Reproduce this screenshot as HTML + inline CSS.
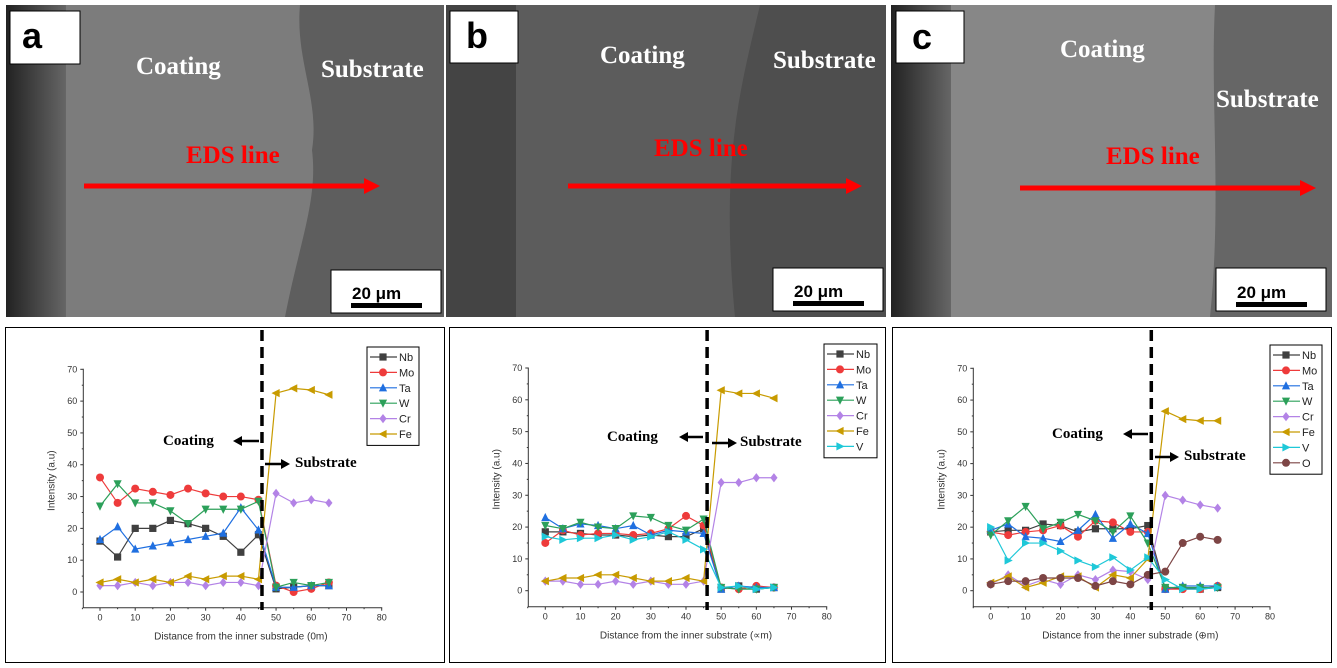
<!DOCTYPE html>
<html><head><meta charset="utf-8">
<style>
html,body{margin:0;padding:0;background:#fff;}
body{width:1337px;height:668px;overflow:hidden;}
svg{display:block;}
.tick{font-family:"Liberation Sans",sans-serif;font-size:9px;fill:#333;}
.ttl{font-family:"Liberation Sans",sans-serif;font-size:10px;fill:#333;}
.ann{font-family:"Liberation Serif",serif;font-weight:bold;font-size:15px;fill:#000;}
.img-lbl{font-family:"Liberation Serif",serif;font-weight:bold;font-size:25px;fill:#fff;}
.eds{font-family:"Liberation Serif",serif;font-weight:bold;font-size:25px;fill:#f00;}
.leg{font-family:"Liberation Sans",sans-serif;font-size:11px;fill:#222;}
</style></head><body>
<svg id="root" width="1337" height="668" viewBox="0 0 1337 668" xmlns="http://www.w3.org/2000/svg">
<defs>
<linearGradient id="gl" x1="0" x2="1"><stop offset="0" stop-color="#222"/><stop offset="1" stop-color="#666"/></linearGradient>
</defs>
<!-- SEM image a -->
<g>
<rect x="6" y="5" width="438" height="312" fill="#5e5e5e"/>
<path d="M6,5 L300,5 C295,60 320,100 312,150 C318,200 300,240 285,317 L6,317Z" fill="#7c7c7c"/>
<rect x="6" y="5" width="60" height="312" fill="url(#gl)"/>
<rect x="10" y="11" width="70" height="53" fill="#fff" stroke="#000"/>
<text x="22" y="48" font-family="Liberation Sans,sans-serif" font-weight="bold" font-size="36" fill="#000">a</text>
<text class="img-lbl" x="136" y="74">Coating</text>
<text class="img-lbl" x="321" y="77">Substrate</text>
<text class="eds" x="186" y="163">EDS line</text>
<line x1="84" y1="186" x2="366" y2="186" stroke="#f00" stroke-width="5"/>
<polygon points="364,178 380,186 364,194" fill="#f00"/>
<rect x="331" y="270" width="110" height="43" fill="#fff" stroke="#000"/>
<text x="352" y="299" font-family="Liberation Sans,sans-serif" font-weight="bold" font-size="17" fill="#000">20 μm</text>
<rect x="351" y="303" width="71" height="5" fill="#000"/>
</g>
<!-- SEM image b -->
<g>
<rect x="446" y="5" width="440" height="312" fill="#4e4e4e"/>
<path d="M446,5 L760,5 C740,90 720,160 735,317 L446,317Z" fill="#5c5c5c"/>
<rect x="446" y="5" width="70" height="312" fill="#444"/>
<rect x="450" y="11" width="68" height="52" fill="#fff" stroke="#000"/>
<text x="466" y="48" font-family="Liberation Sans,sans-serif" font-weight="bold" font-size="36" fill="#000">b</text>
<text class="img-lbl" x="600" y="63">Coating</text>
<text class="img-lbl" x="773" y="68">Substrate</text>
<text class="eds" x="654" y="156">EDS line</text>
<line x1="568" y1="186" x2="848" y2="186" stroke="#f00" stroke-width="5"/>
<polygon points="846,178 862,186 846,194" fill="#f00"/>
<rect x="773" y="268" width="110" height="43" fill="#fff" stroke="#000"/>
<text x="794" y="297" font-family="Liberation Sans,sans-serif" font-weight="bold" font-size="17" fill="#000">20 μm</text>
<rect x="793" y="301" width="71" height="5" fill="#000"/>
</g>
<!-- SEM image c -->
<g>
<rect x="891" y="5" width="441" height="312" fill="#666"/>
<path d="M891,5 L1215,5 C1210,100 1222,200 1210,317 L891,317Z" fill="#878787"/>
<rect x="891" y="5" width="60" height="312" fill="url(#gl)"/>
<rect x="896" y="11" width="68" height="52" fill="#fff" stroke="#000"/>
<text x="912" y="49" font-family="Liberation Sans,sans-serif" font-weight="bold" font-size="36" fill="#000">c</text>
<text class="img-lbl" x="1060" y="57">Coating</text>
<text class="img-lbl" x="1216" y="107">Substrate</text>
<text class="eds" x="1106" y="164">EDS line</text>
<line x1="1020" y1="188" x2="1302" y2="188" stroke="#f00" stroke-width="5"/>
<polygon points="1300,180 1316,188 1300,196" fill="#f00"/>
<rect x="1216" y="268" width="110" height="43" fill="#fff" stroke="#000"/>
<text x="1237" y="298" font-family="Liberation Sans,sans-serif" font-weight="bold" font-size="17" fill="#000">20 μm</text>
<rect x="1236" y="302" width="71" height="5" fill="#000"/>
</g>
<rect x="5.5" y="327.5" width="439" height="335" fill="none" stroke="#000"/>
<rect x="449.5" y="327.5" width="436" height="335" fill="none" stroke="#000"/>
<rect x="892.5" y="327.5" width="439" height="335" fill="none" stroke="#000"/>
<g id="charts"></g>
</svg>
<script>
const xs = [0,5,10,15,20,25,30,35,40,45,50,55,60,65];
const xTicks = [0,10,20,30,40,50,60,70,80];
const yTicks = [0,10,20,30,40,50,60,70];
// chart a
const aNb = [16,11,20,20,22.5,21.5,20,17.5,12.5,18,1,1.5,2,2];
const aMo = [36,28,32.5,31.5,30.5,32.5,31,30,30,29,2,0,1,3];
const aTa = [16.5,20.5,13.5,14.5,15.5,16.5,17.5,18.5,26.5,19.5,1.5,1.5,2,2];
const aW  = [27,34,28,28,25.5,21.5,26,26,26,28.5,1.5,3,2,3];
const aCr = [2,2,3,2,3,3,2,3,3,2,31,28,29,28];
const aFe = [3,4,3,4,3,5,4,5,5,4,62.5,64,63.5,62];
// chart b
const bNb = [18.5,18.5,18,17.5,17.5,17,17.5,17,17,19.5,0.5,1.5,0.5,1];
const bMo = [15,19,17.5,18,18,17.5,18,19.5,23.5,20.5,1,0.5,1.5,1];
const bTa = [23,19.5,21,20.5,19.5,20.5,17.5,19,18.5,18,0.5,1.5,1,1];
const bW  = [20.5,19.5,21.5,20,19.5,23.5,23,20.5,19,22.5,1,0.5,0.5,1];
const bCr = [3,3,2,2,3,2,3,2,2,3,34,34,35.5,35.5];
const bFe = [3,4,4,5,5,4,3,3,4,3,63,62,62,60.5];
const bV  = [17,16,16.5,16.5,17.5,16,17,18.5,16,13,1,1.5,0.5,1];
// chart c
const cNb = [18.5,19,19,21,20.5,18.5,19.5,19.5,19.5,20.5,0.5,1,0.5,1];
const cMo = [18.5,17.5,18.5,19,20.5,17,22,21.5,18.5,18.5,0.5,0.5,0.5,1.5];
const cTa = [19,21,17,16.5,15.5,19,24,16.5,21,18,0.5,1.5,1.5,1.5];
const cW  = [17.5,22,26.5,19.5,21.5,24,22,18.5,23.5,15,1,1,1,1];
const cCr = [2,5,1.5,3.5,2,5,3.5,6.5,6,3.5,30,28.5,27,26];
const cFe = [2.5,4.5,1,2.5,4.5,4.5,1,5,4,10,56.5,54,53.5,53.5];
const cV  = [20,9.5,15,15,12.5,9.5,7.5,10.5,6.5,10.5,3.5,0.5,0.5,1];
const cO  = [2,3,3,4,4,4,1.5,3,2,5,6,15,17,16];
const interfaceX = [46,46,46];

const NS="http://www.w3.org/2000/svg";
const root=document.getElementById('charts');
function mk(tag,attrs,parent){const e=document.createElementNS(NS,tag);for(const k in attrs)e.setAttribute(k,attrs[k]);(parent||root).appendChild(e);return e;}
const STY={Nb:['#404040','sq'],Mo:['#ee3b3b','ci'],Ta:['#1f6fe0','tu'],W:['#2ca05a','td'],Cr:['#b383e6','di'],Fe:['#c89b00','tl'],V:['#1ec8d8','tr'],O:['#7d4545','ci']};
function marker(g,t,x,y,c){const s=3.6;let e;
 if(t==='sq')e=mk('rect',{x:x-s,y:y-s,width:2*s,height:2*s,fill:c},g);
 else if(t==='ci')e=mk('circle',{cx:x,cy:y,r:s+0.4,fill:c},g);
 else{let p;if(t==='tu')p=[[x,y-s-1],[x-s-0.5,y+s],[x+s+0.5,y+s]];if(t==='td')p=[[x,y+s+1],[x-s-0.5,y-s],[x+s+0.5,y-s]];if(t==='di')p=[[x,y-s-1],[x+s,y],[x,y+s+1],[x-s,y]];if(t==='tl')p=[[x-s-1,y],[x+s,y-s-0.5],[x+s,y+s+0.5]];if(t==='tr')p=[[x+s+1,y],[x-s,y-s-0.5],[x-s,y+s+0.5]];
 e=mk('polygon',{points:p.map(q=>q.join(',')).join(' '),fill:c},g);}
 return e;}
function chart(id,cfg,series,xlabel,iface){
 const g=mk('g',{});
 
 
 const X=v=>cfg.x0+(cfg.x80-cfg.x0)*v/80, Y=v=>cfg.y0+(cfg.y70-cfg.y0)*v/70;
 const ax=mk('path',{d:`M${cfg.left},${cfg.y70-0.5} L${cfg.left},${cfg.bot} L${cfg.x80+0.5},${cfg.bot}`,fill:'none',stroke:'#333','stroke-width':1},g);
 
 
 yTicks.forEach(v=>{const y=Y(v);mk('line',{x1:cfg.left-3,x2:cfg.left,y1:y,y2:y,stroke:'#333'},g);
  if(v<70)mk('line',{x1:cfg.left-1.5,x2:cfg.left,y1:Y(v+5),y2:Y(v+5),stroke:'#333'},g);
  const t=mk('text',{x:cfg.left-6,y:y+3,'text-anchor':'end',class:'tick'},g);t.textContent=v;
  
  });
 xTicks.forEach(v=>{const x=X(v);mk('line',{x1:x,x2:x,y1:cfg.bot,y2:cfg.bot+3,stroke:'#333'},g);
  mk('line',{x1:X(v-5),x2:X(v-5),y1:cfg.bot,y2:cfg.bot+1.5,stroke:'#333'},g);
  const t=mk('text',{x:x,y:cfg.bot+13,'text-anchor':'middle',class:'tick'},g);t.textContent=v;
  
  });
 const xt=mk('text',{x:(cfg.x0+cfg.x80)/2,y:cfg.bot+32,'text-anchor':'middle',class:'ttl'},g);xt.textContent=xlabel;
 
 
 const yt=mk('text',{x:0,y:0,'text-anchor':'middle',class:'ttl',transform:`translate(${cfg.left-29},${(cfg.y0+cfg.y70)/2}) rotate(-90)`},g);yt.textContent='Intensity (a.u)';
 
 
 series.forEach(([name,vals])=>{const [c,m]=STY[name];const sg=mk('g',{},g);
  
  
  mk('polyline',{points:vals.map((v,i)=>X(xs[i])+','+Y(v)).join(' '),fill:'none',stroke:c,'stroke-width':1.2},sg);
  vals.forEach((v,i)=>{const e=marker(sg,m,X(xs[i]),Y(v),c);
   
   });});
 const dl=mk('line',{x1:X(iface),x2:X(iface),y1:330,y2:610,stroke:'#000','stroke-width':3.5,'stroke-dasharray':'11,6'},g);
 
 
 // legend
 const lg=mk('g',{},g);
 
 
 const L=cfg.leg;const h=15.4*series.length+6;
 mk('rect',{x:L[0],y:L[1],width:L[2],height:h,fill:'#fff',stroke:'#000'},lg);
 series.forEach(([name],i)=>{const [c,m]=STY[name];const y=L[1]+10+i*15.4;
  const eg=mk('g',{},lg);
  
  
  mk('line',{x1:L[0]+3,x2:L[0]+30,y1:y,y2:y,stroke:c,'stroke-width':1.2},eg);
  marker(eg,m,L[0]+16,y,c);
  const t=mk('text',{x:L[0]+32,y:y+4,class:'leg'},eg);t.textContent=name;});
 // annotations
 const A=cfg.ann;
 const t1=mk('text',{x:A[0],y:A[1],class:'ann'},g);t1.textContent='Coating';
 
 
 mk('line',{x1:A[2]+6,x2:A[3],y1:A[1]-4,y2:A[1]-4,stroke:'#000','stroke-width':2.5},g);
 mk('polygon',{points:`${A[2]},${A[1]-4} ${A[2]+9},${A[1]-9} ${A[2]+9},${A[1]+1}`,fill:'#000'},g);
 const t2=mk('text',{x:A[4],y:A[5],class:'ann'},g);t2.textContent='Substrate';
 
 
 mk('line',{x1:A[6],x2:A[7]-6,y1:A[5]-3,y2:A[5]-3,stroke:'#000','stroke-width':2.5},g);
 mk('polygon',{points:`${A[7]},${A[5]-3} ${A[7]-9},${A[5]-8} ${A[7]-9},${A[5]+2}`,fill:'#000'},g);
}
chart('a',{x0:100,x80:381.7,y0:592,y70:369.3,left:83.3,bot:607.7,leg:[367,347,52,0],ann:[163,445,233,259,295,467,265,290]},
 [['Nb',aNb],['Mo',aMo],['Ta',aTa],['W',aW],['Cr',aCr],['Fe',aFe]],'Distance from the inner substrade (0m)',interfaceX[0]);
chart('b',{x0:545.3,x80:826.7,y0:590.7,y70:368,left:528.3,bot:606.7,leg:[824,344,53,0],ann:[607,441,679,703,740,446,712,737]},
 [['Nb',bNb],['Mo',bMo],['Ta',bTa],['W',bW],['Cr',bCr],['Fe',bFe],['V',bV]],'Distance from the inner substrate (\u221dm)',interfaceX[1]);
chart('c',{x0:990.7,x80:1270,y0:590.7,y70:368.3,left:973.3,bot:606.7,leg:[1270,345,52,0],ann:[1052,438,1123,1148,1184,460,1155,1179]},
 [['Nb',cNb],['Mo',cMo],['Ta',cTa],['W',cW],['Cr',cCr],['Fe',cFe],['V',cV],['O',cO]],'Distance from the inner substrade (\u2295m)',interfaceX[2]);
</script>
</body></html>
